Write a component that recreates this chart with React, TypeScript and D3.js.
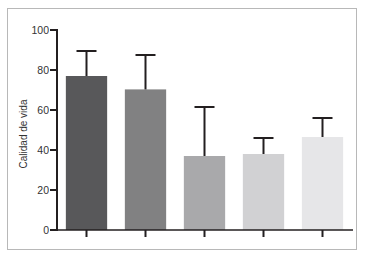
import React from "react";
import * as d3 from "d3";

const groups = ["G1", "G2", "G3", "G4", "G5"];
const means = [77, 70.3, 37, 38, 46.5];
const upper = [89.5, 87.5, 61.5, 46, 56];
const colors = ["#58585a", "#818182", "#a9a9ab", "#d1d1d3", "#e6e6e8"];
const yTicks = [0, 20, 40, 60, 80, 100];

const W = 367;
const H = 257;
const margin = { left: 57, right: 14, top: 30, bottom: 27 };

const App = () => {
  const x = d3
    .scaleBand<string>()
    .domain(groups)
    .range([margin.left, 352])
    .paddingInner(0.3)
    .paddingOuter(0.15);

  const y = d3
    .scaleLinear()
    .domain([0, 100])
    .range([H - margin.bottom, margin.top]);

  const ink = "#231f20";
  const font = "'Liberation Sans', Arial, sans-serif";

  return (
    <svg
      width={W}
      height={H}
      style={{ position: "absolute", left: 0, top: 0 }}
      fontFamily={font}
    >
      <rect x={0} y={0} width={W} height={H} fill="#fff" />
      <rect
        x={7.5}
        y={8.5}
        width={349}
        height={241}
        fill="none"
        stroke="#b8b8b8"
        strokeWidth={1}
      />

      {/* bars */}
      {groups.map((g, i) => (
        <rect
          key={g}
          x={x(g)}
          y={y(means[i])}
          width={x.bandwidth()}
          height={y(0) - y(means[i])}
          fill={colors[i]}
        />
      ))}

      {/* error bars */}
      {groups.map((g, i) => {
        const cx = (x(g) as number) + x.bandwidth() / 2;
        return (
          <g key={g} stroke={ink} strokeWidth={2}>
            <line x1={cx} x2={cx} y1={y(means[i])} y2={y(upper[i])} />
            <line x1={cx - 10} x2={cx + 10} y1={y(upper[i])} y2={y(upper[i])} />
          </g>
        );
      })}

      {/* y axis */}
      <line
        x1={margin.left}
        x2={margin.left}
        y1={y(100) - 1}
        y2={y(0) + 1}
        stroke={ink}
        strokeWidth={2}
      />
      {yTicks.map((t) => (
        <g key={t}>
          <line
            x1={margin.left - 7}
            x2={margin.left}
            y1={y(t)}
            y2={y(t)}
            stroke={ink}
            strokeWidth={2}
          />
          <text
            x={margin.left - 8}
            y={y(t)}
            dy="0.35em"
            textAnchor="end"
            fontSize={10.5}
            fill="#333"
          >
            {t}
          </text>
        </g>
      ))}

      {/* x axis */}
      <line
        x1={margin.left}
        x2={353}
        y1={y(0)}
        y2={y(0)}
        stroke={ink}
        strokeWidth={1.5}
      />
      {groups.map((g) => {
        const cx = (x(g) as number) + x.bandwidth() / 2;
        return (
          <line
            key={g}
            x1={cx}
            x2={cx}
            y1={y(0)}
            y2={y(0) + 7}
            stroke={ink}
            strokeWidth={2}
          />
        );
      })}

      <text
        transform={`translate(27, ${y(48)}) rotate(-90)`}
        textAnchor="middle"
        fontSize={10}
        fill="#333"
      >
        Calidad de vida
      </text>
    </svg>
  );
};

export default App;
